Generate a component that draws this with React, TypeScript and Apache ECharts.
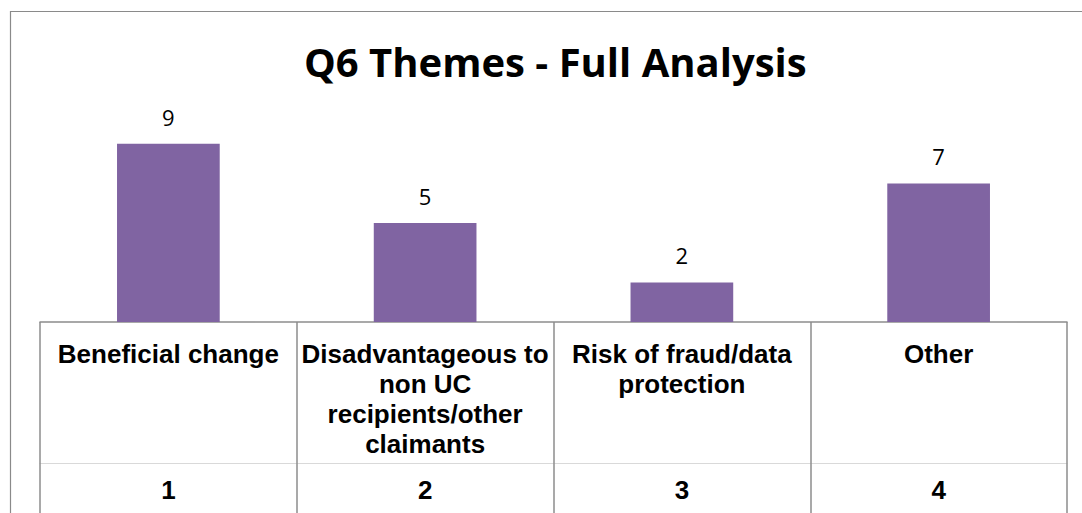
import React, { useEffect, useRef } from "react";
import * as echarts from "echarts";

const titleText = "Q6 Themes - Full Analysis";
const categories = [
  "Beneficial change",
  "Disadvantageous to\nnon UC\nrecipients/other\nclaimants",
  "Risk of fraud/data\nprotection",
  "Other",
];
const categoryNumbers = ["1", "2", "3", "4"];
const values = [9, 5, 2, 7];

export default function App() {
  const ref = useRef<HTMLDivElement>(null);
  useEffect(() => {
    if (!ref.current) return;
    const chart = echarts.init(ref.current, undefined, { renderer: "svg" });
    const labelFont = "'Liberation Sans', Arial, sans-serif";
    chart.setOption({
      animation: false,
      backgroundColor: "#ffffff",
      title: {
        text: titleText,
        left: 299,
        top: 36,
        textStyle: {
          fontFamily: "'Open Sans', sans-serif",
          fontWeight: "bold",
          fontSize: 40,
          color: "#000000",
        },
      },
      graphic: [
        {
          type: "rect",
          shape: { x: 10.5, y: 11.5, width: 1200, height: 700 },
          style: { fill: "none", stroke: "#8a8a8a", lineWidth: 1.2 },
          silent: true,
        },
      ],
      grid: { left: 40, right: 15, top: 124, bottom: 191, containLabel: false },
      yAxis: { type: "value", min: 0, max: 10, show: false },
      xAxis: [
        {
          type: "category",
          data: categories,
          position: "bottom",
          axisLine: { show: true, lineStyle: { color: "#8c8c8c", width: 1.5 } },
          axisTick: {
            show: true,
            interval: 0,
            alignWithLabel: false,
            length: 250,
            lineStyle: { color: "#8c8c8c", width: 1.5 },
          },
          axisLabel: {
            interval: 0,
            margin: 17,
            fontFamily: labelFont,
            fontWeight: "bold",
            fontSize: 26,
            lineHeight: 30,
            color: "#000000",
            align: "center",
          },
        },
        {
          type: "category",
          data: categoryNumbers,
          position: "bottom",
          offset: 141,
          axisLine: { show: true, lineStyle: { color: "#d9d9d9", width: 1 } },
          axisTick: { show: false },
          axisLabel: {
            interval: 0,
            margin: 12,
            fontFamily: labelFont,
            fontWeight: "bold",
            fontSize: 26,
            lineHeight: 30,
            color: "#000000",
          },
        },
      ],
      series: [
        {
          type: "bar",
          data: values,
          xAxisIndex: 0,
          barWidth: "40%",
          itemStyle: { color: "#8064A2" },
          label: {
            show: true,
            position: "top",
            distance: 16,
            fontFamily: "'Open Sans', sans-serif",
            fontSize: 22,
            color: "#000000",
          },
        },
      ],
    });
    return () => chart.dispose();
  }, []);
  return (
    <div
      ref={ref}
      style={{ position: "absolute", left: 0, top: 0, width: 1082, height: 513 }}
    />
  );
}
